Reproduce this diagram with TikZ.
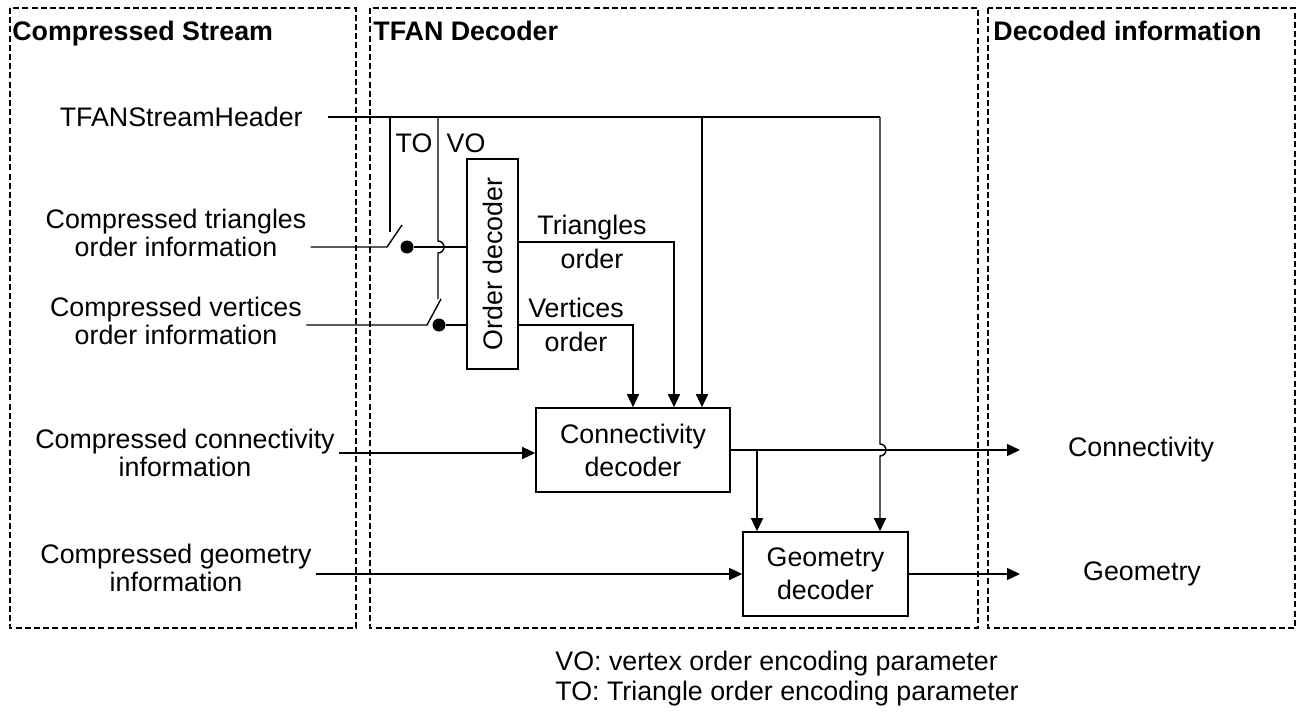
\documentclass[tikz,border=0pt]{standalone}
\usepackage{fontspec}
\setmainfont{Liberation Sans}
\usetikzlibrary{arrows.meta,positioning}

\begin{document}
\begin{tikzpicture}[x=0.5pt,y=-0.5pt,
    font=\fontsize{13.4}{14.2}\selectfont,
    panel/.style={draw,line width=0.6pt,dash pattern=on 3pt off 1.6pt},
    title/.style={font=\fontsize{13.4}{14.2}\selectfont\bfseries,
                  anchor=base west,inner sep=0pt},
    src/.style={align=center,inner sep=2pt},
    dec/.style={draw,line width=0.8pt,align=center,inner sep=0pt,
                font=\fontsize{13.4}{16.5}\selectfont},
    lbl/.style={align=center,inner sep=0pt,
                font=\fontsize{13.4}{17}\selectfont},
    wire/.style={line width=0.7pt},
    arr/.style={wire,-{Triangle[length=6.5pt,width=6pt]}},
    dot/.style={circle,fill,inner sep=0pt,minimum size=6.5pt}]
  \useasboundingbox (0,0) rectangle (1302,717);

  % the three panels
  \draw[panel] (10,8) rectangle (356,628);
  \draw[panel] (370,8) rectangle (978,628);
  \draw[panel] (988,8) rectangle (1295,628);
  \node[title] (hstream) at (12,41) {Compressed Stream};
  \node[title] (hdecoder) at (373,41) {TFAN Decoder};
  \node[title] (hinfo) at (993,41) {Decoded information};

  % compressed stream
  \node[src,anchor=east] (srchdr) at (307,117) {TFANStreamHeader};
  \node[src] (srctri) at (176,233) {Compressed triangles\\order information};
  \node[src] (srcvert) at (176,321) {Compressed vertices\\order information};
  \node[src] (srcconn) at (185,453) {Compressed connectivity\\information};
  \node[src] (srcgeom) at (176,568) {Compressed geometry\\information};

  % decoders
  \node[dec,minimum width=25.5pt,minimum height=105pt] (orderdec) at (492.5,264)
    {\rotatebox{90}{Order decoder}};
  \node[dec,minimum width=97pt,minimum height=42pt] (conndec) at (633,450)
    {Connectivity\\decoder};
  \node[dec,minimum width=82.5pt,minimum height=42pt] (geomdec) at (825.5,574)
    {Geometry\\decoder};

  % decoded information
  \node (outconn) at (1141,450) {Connectivity};
  \node (outgeom) at (1142,574) {Geometry};

  % switches
  \coordinate (topiv) at (387,247);
  \coordinate (toblade) at (402,225);
  \node[dot] (todot) at (407,247) {};
  \coordinate (vopiv) at (427,325);
  \coordinate (voblade) at (441,299);
  \node[dot] (vodot) at (439,325) {};
  \node (tolbl) at (414,143) {TO};
  \node (volbl) at (466,143) {VO};

  % junctions
  \coordinate (hdrstart) at (328,117);
  \coordinate (toctl) at (390,117);
  \coordinate (voctl) at (438,117);
  \coordinate (hdrbr) at (702,117);
  \coordinate (hdrend) at (880,117);
  \coordinate (tribend) at (674,242);
  \coordinate (vertbend) at (633,325);
  \coordinate (connbr) at (757,450);
  \coordinate (connend) at (1020,450);
  \coordinate (geomend) at (1020,574);

  % header and switch controls
  \draw[wire] (hdrstart) -- (hdrend);
  \draw[wire] (toctl) -- (390,232);
  \draw[wire] (voctl) -- (438,241) arc(-90:90:6) -- (438,299);
  \draw[arr] (hdrbr) -- (hdrbr |- conndec.north);
  \draw[arr] (hdrend) -- (880,444) arc(-90:90:6) -- (hdrend |- geomdec.north);

  % order information through the switches
  \draw[wire] (srctri.east |- topiv) -- (topiv) -- (toblade);
  \draw[wire] (todot) -- (todot -| orderdec.west);
  \draw[wire] (srcvert.east |- vopiv) -- (vopiv) -- (voblade);
  \draw[wire] (vodot) -- (vodot -| orderdec.west);

  % order decoder outputs
  \draw[arr] (orderdec.east |- tribend) -- (tribend) -- (tribend |- conndec.north);
  \draw[arr] (orderdec.east |- vertbend) -- (vertbend) -- (vertbend |- conndec.north);
  \node[lbl] (trilbl) at (592,242) {Triangles\\order};
  \node[lbl] (vertlbl) at (576,325) {Vertices\\order};

  % connectivity and geometry
  \draw[arr] (srcconn.east) -- (srcconn.east -| conndec.west);
  \draw[arr] (conndec.east) -- (connend);
  \draw[arr] (connbr) -- (connbr |- geomdec.north);
  \draw[arr] (srcgeom.east |- geomdec.west) -- (geomdec.west);
  \draw[arr] (geomdec.east) -- (geomend);

  % legend
  \node[anchor=west,inner sep=0pt] (legvo) at (555,664) {VO: vertex order encoding parameter};
  \node[anchor=west,inner sep=0pt] (legto) at (555,694) {TO: Triangle order encoding parameter};
\end{tikzpicture}
\end{document}
